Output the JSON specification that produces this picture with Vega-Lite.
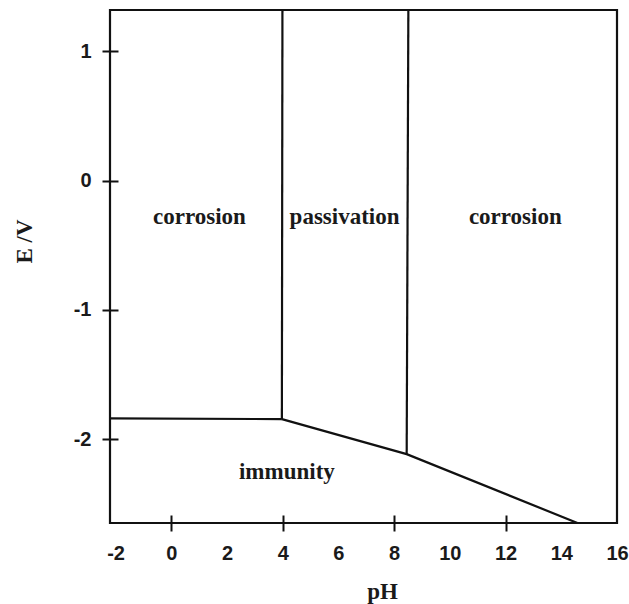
{
  "$schema": "https://vega.github.io/schema/vega-lite/v6.json",
  "autosize": "none",
  "padding": {"left": 110, "top": 10, "right": 12, "bottom": 81},
  "width": 507,
  "height": 513,
  "background": "white",
  "config": {
    "view": {"stroke": "#111", "strokeWidth": 2.2}
  },
  "datasets": {
    "lines": [
      {"seg": "A", "ord": 1, "ph": -2.2, "e": -1.84},
      {"seg": "A", "ord": 2, "ph": 3.97, "e": -1.846},
      {"seg": "B", "ord": 1, "ph": 3.99, "e": 1.32},
      {"seg": "B", "ord": 2, "ph": 3.97, "e": -1.846},
      {"seg": "C", "ord": 1, "ph": 3.97, "e": -1.846},
      {"seg": "C", "ord": 2, "ph": 8.45, "e": -2.117},
      {"seg": "C", "ord": 3, "ph": 14.58, "e": -2.65},
      {"seg": "D", "ord": 1, "ph": 8.51, "e": 1.32},
      {"seg": "D", "ord": 2, "ph": 8.45, "e": -2.117}
    ],
    "labels": [
      {"label": "corrosion", "ph": 1.01, "e": -0.282},
      {"label": "passivation", "ph": 6.22, "e": -0.282},
      {"label": "corrosion", "ph": 12.35, "e": -0.282},
      {"label": "immunity", "ph": 4.15, "e": -2.256}
    ]
  },
  "layer": [
    {
      "data": {"name": "lines"},
      "mark": {"type": "line", "color": "#111", "strokeWidth": 2.2, "clip": true},
      "encoding": {
        "x": {
          "field": "ph", "type": "quantitative",
          "scale": {"domain": [-2.2, 16], "nice": false, "zero": false},
          "axis": {
            "values": [-2, 0, 2, 4, 6, 8, 10, 12, 14, 16],
            "title": "pH",
            "grid": false,
            "domain": false,
            "offset": -8,
            "tickSize": 16,
            "tickWidth": 2,
            "tickColor": "#111",
            "tickOpacity": {"condition": {"test": "datum.value == 0 || datum.value == 4 || datum.value == 8 || datum.value == 12", "value": 1}, "value": 0},
            "labelExpr": "'' + datum.value",
            "labelFont": "Liberation Sans",
            "labelFontWeight": "bold",
            "labelFontSize": 20,
            "labelColor": "#1a1a1a",
            "labelPadding": 12,
            "labelFlush": false,
            "labelOverlap": false,
            "labelBound": false,
            "titleFont": "Liberation Serif",
            "titleFontWeight": "bold",
            "titleFontSize": 23,
            "titleColor": "#1a1a1a",
            "titleBaseline": "alphabetic",
            "titleAnchor": "start",
            "titleAlign": "center",
            "titleX": 272,
            "titleY": 83
          }
        },
        "y": {
          "field": "e", "type": "quantitative",
          "scale": {"domain": [-2.65, 1.32], "nice": false, "zero": false},
          "axis": {
            "values": [-2, -1, 0, 1],
            "title": "E /V",
            "grid": false,
            "domain": false,
            "offset": -8,
            "tickSize": 16,
            "tickWidth": 2,
            "tickColor": "#111",
            "labelExpr": "'' + datum.value",
            "labelFont": "Liberation Sans",
            "labelFontWeight": "bold",
            "labelFontSize": 20,
            "labelColor": "#1a1a1a",
            "labelPadding": 11,
            "labelBound": false,
            "labelFlush": false,
            "titleFont": "Liberation Serif",
            "titleFontWeight": "bold",
            "titleFontSize": 23,
            "titleColor": "#1a1a1a",
            "titleBaseline": "alphabetic",
            "titleAlign": "center",
            "titleAngle": -90,
            "titleX": -87,
            "titleY": 231
          }
        },
        "detail": {"field": "seg"},
        "order": {"field": "ord", "type": "quantitative"}
      }
    },
    {
      "data": {"name": "labels"},
      "mark": {"type": "text", "font": "Liberation Serif", "fontWeight": "bold", "fontSize": 23, "color": "#1a1a1a", "align": "center", "baseline": "middle"},
      "encoding": {
        "x": {"field": "ph", "type": "quantitative"},
        "y": {"field": "e", "type": "quantitative"},
        "text": {"field": "label"}
      }
    }
  ]
}
